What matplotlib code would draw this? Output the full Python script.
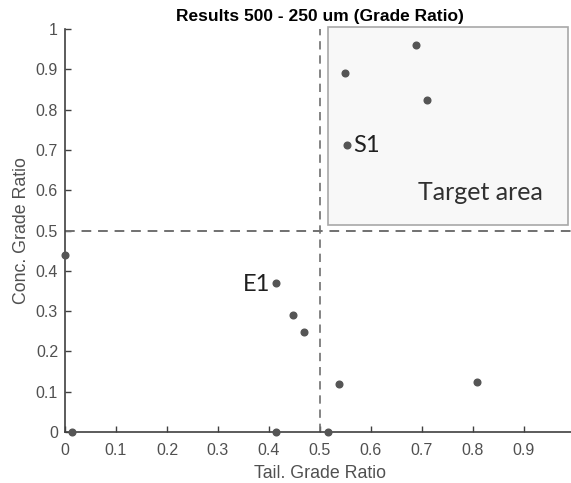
import matplotlib
matplotlib.use('Agg')
import matplotlib.pyplot as plt
from matplotlib.patches import Rectangle

# tailings grade ratio vs concentrate grade ratio
tail_ratio = [0.0, 0.013, 0.414, 0.447, 0.469, 0.414, 0.515, 0.537, 0.807,
              0.549, 0.689, 0.710, 0.552]
conc_ratio = [0.44, 0.0, 0.370, 0.291, 0.249, 0.0, 0.0, 0.118, 0.123,
              0.890, 0.960, 0.823, 0.712]

ticks = [0, 0.1, 0.2, 0.3, 0.4, 0.5, 0.6, 0.7, 0.8, 0.9, 1]
tick_labels = ['0', '0.1', '0.2', '0.3', '0.4', '0.5', '0.6', '0.7', '0.8', '0.9', '1']
threshold = 0.5

plt.rcParams.update({
    'font.family': 'Liberation Sans',
    'font.size': 10,
})

fig = plt.figure(figsize=(5.71, 4.83), dpi=100)
ax = fig.add_axes([0.1138, 0.1056, 0.8932, 0.834])

# target area box
ax.add_patch(Rectangle((0.515, 0.513), 0.472, 0.492, facecolor='#f8f8f8',
                       edgecolor='#a8a8a8', linewidth=1.2, clip_on=False, zorder=1))

ax.axhline(threshold, color='#707070', linestyle=(0, (5, 3.5)), linewidth=1.4, zorder=2)
ax.axvline(threshold, color='#707070', linestyle=(0, (5, 3.5)), linewidth=1.2, zorder=2)

ax.plot(tail_ratio, conc_ratio, linestyle='none', marker='o', markersize=4.8,
        color='#555555', clip_on=False, zorder=4)

ax.text(0.565, 0.712, 'S1', fontsize=17, family='Lato', color='#202020', va='center', ha='left')
ax.text(0.402, 0.365, 'E1', fontsize=17, family='Lato', color='#202020', va='center', ha='right')
ax.text(0.815, 0.595, 'Target area', fontsize=18, family='Lato', color='#303030',
        va='center', ha='center')

ax.set_xlim(0, 1)
ax.set_ylim(0, 1)
ax.set_xticks(ticks)
ax.set_xticklabels(tick_labels)
ax.set_yticks(ticks)
ax.set_yticklabels(tick_labels)
ax.spines['top'].set_visible(False)
ax.spines['right'].set_visible(False)
for s in ['left', 'bottom']:
    ax.spines[s].set_color('#404040')
    ax.spines[s].set_linewidth(1.2)
ax.tick_params(direction='in', length=4, width=1, colors='#404040', labelcolor='#505050',
               labelsize=11.5)
ax.tick_params(axis='x', pad=8)
ax.tick_params(axis='y', pad=5)

ax.set_title('Results 500 - 250 um (Grade Ratio)', fontsize=12.5, fontweight='bold', pad=6)
ax.set_xlabel('Tail. Grade Ratio', fontsize=12.8, color='#505050', labelpad=5)
ax.set_ylabel('Conc. Grade Ratio', fontsize=12.8, color='#505050', labelpad=4)

plt.savefig('out.png', dpi=100)
